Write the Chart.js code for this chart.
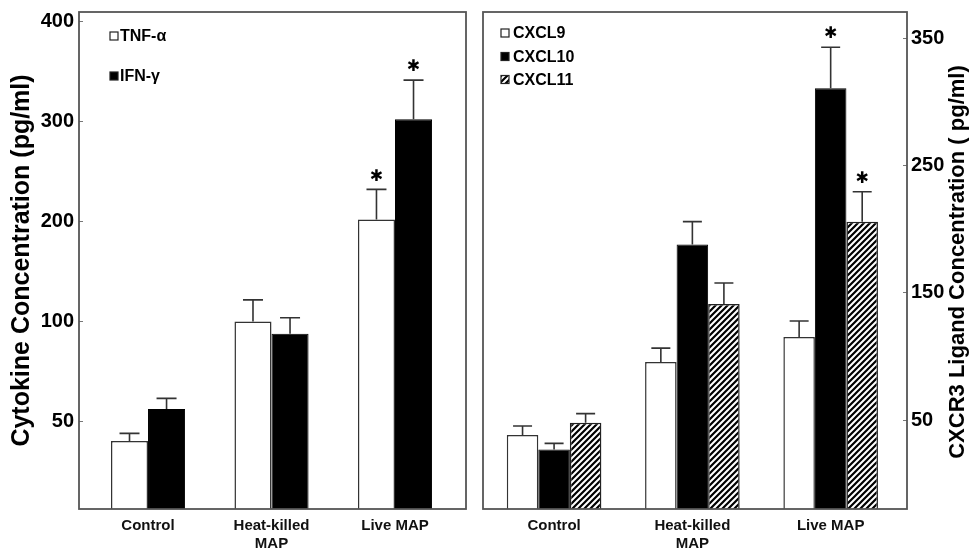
<!DOCTYPE html>
<html><head><meta charset="utf-8">
<script src="https://cdn.jsdelivr.net/npm/chart.js@4.4.1/dist/chart.umd.min.js"></script>
<style>
html,body{margin:0;padding:0;background:#fff;}
#wrap{position:relative;width:971px;height:550px;overflow:hidden;background:#fff;}
#c1{position:absolute;left:0;top:0;width:475px;height:550px;}
#c2{position:absolute;left:475px;top:0;width:496px;height:550px;}
</style></head><body>
<div id="wrap"><canvas id="c1" width="475" height="550"></canvas><canvas id="c2" width="496" height="550"></canvas></div>
<script>
// ---------- data ----------
const CATEGORIES = ['Control', ['Heat-killed', 'MAP'], 'Live MAP'];

const LEFT_SERIES = ['TNF-\u03b1', 'IFN-\u03b3'];
const TNF = [39, 100, 202];
const TNF_SEM = [4.4, 21.7, 30];
const IFN = [56.4, 94, 302];
const IFN_SEM = [5.3, 9.8, 39];
const TNF_SIG = [false, false, true];
const IFN_SIG = [false, false, true];
const LEFT_TICKS = [50, 100, 200, 300, 400];
const LEFT_TITLE = 'Cytokine Concentration (pg/ml)';

const RIGHT_SERIES = ['CXCL9', 'CXCL10', 'CXCL11'];
const CXCL9 = [41.6, 95.6, 115.3];
const CXCL9_SEM = [5.0, 11.0, 12.6];
const CXCL10 = [33.5, 188, 311];
const CXCL10_SEM = [3.4, 18.1, 32.3];
const CXCL11 = [48.5, 141.3, 206];
const CXCL11_SEM = [6.5, 16.5, 23.6];
const CXCL9_SIG = [false, false, false];
const CXCL10_SIG = [false, false, true];
const CXCL11_SIG = [false, false, true];
const RIGHT_TICKS = [50, 150, 250, 350];
const RIGHT_TITLE = 'CXCR3 Ligand Concentration ( pg/ml)';

// ---------- setup ----------
const FONT = "'Liberation Sans', Arial, Helvetica, sans-serif";
Chart.defaults.font.family = FONT;
Chart.defaults.color = '#000';

// broken (piecewise linear) value axis: tick values are equally spaced as in the original figure
function makeBrokenScale(id, knots, units) {
  return class extends Chart.LinearScale {
    static id = id;
    static defaults = {};
    _dec(v) {
      let i = 0;
      while (i < knots.length - 2 && v > knots[i + 1]) i++;
      const t = (v - knots[i]) / (knots[i + 1] - knots[i]);
      const p = units[i] + t * (units[i + 1] - units[i]);
      return (p - units[0]) / (units[units.length - 1] - units[0]);
    }
    getPixelForValue(v) {
      if (v === null || v === undefined || isNaN(v)) return NaN;
      return this.getPixelForDecimal(this._dec(v));
    }
    getValueForPixel(px) {
      const d = this.getDecimalForPixel(px);
      const p = units[0] + d * (units[units.length - 1] - units[0]);
      let i = 0;
      while (i < units.length - 2 && p > units[i + 1]) i++;
      return knots[i] + (p - units[i]) / (units[i + 1] - units[i]) * (knots[i + 1] - knots[i]);
    }
  };
}
Chart.register(makeBrokenScale('brokenLeft', [0, 50, 100, 200, 300, 400, 409], [-0.87, 0, 1, 2, 3, 4, 4.09]));
Chart.register(makeBrokenScale('brokenRight', [0, 50, 150, 250, 350, 371], [-0.70, 0, 1, 2, 3, 3.21]));

function hatchPattern() {
  const c = document.createElement('canvas'); c.width = 6; c.height = 6;
  const g = c.getContext('2d');
  g.fillStyle = '#fff'; g.fillRect(0, 0, 6, 6);
  g.strokeStyle = '#000'; g.lineWidth = 2.2;
  g.beginPath();
  g.moveTo(-1, 7); g.lineTo(7, -1);
  g.moveTo(-4, 4); g.lineTo(4, -4);
  g.moveTo(2, 10); g.lineTo(10, 2);
  g.stroke();
  return document.getElementById('c2').getContext('2d').createPattern(c, 'repeat');
}
const HATCH = hatchPattern();

function toXY(arr) { return arr.map((v, i) => ({ x: i, y: v })); }

function panelPlugin(cfg) {
  return {
    id: 'panel_' + cfg.name,
    afterDatasetsDraw(chart) {
      const ctx = chart.ctx, ys = chart.scales.y;
      ctx.save();
      chart.data.datasets.forEach((ds, di) => {
        const meta = chart.getDatasetMeta(di);
        meta.data.forEach((bar, i) => {
          const v = ds.data[i].y;
          const top = ys.getPixelForValue(v + ds.sem[i]);
          ctx.strokeStyle = '#333'; ctx.lineWidth = 1.6;
          ctx.beginPath();
          ctx.moveTo(bar.x, bar.y); ctx.lineTo(bar.x, top);
          ctx.moveTo(bar.x - cfg.capW / 2, top); ctx.lineTo(bar.x + cfg.capW / 2, top);
          ctx.stroke();
          if (ds.sig[i]) {
            ctx.fillStyle = '#000';
            ctx.font = "bold 16px 'DejaVu Sans', sans-serif";
            ctx.textAlign = 'center'; ctx.textBaseline = 'middle';
            ctx.fillText('\u2731', bar.x, top - 13);
          }
        });
      });
      ctx.restore();
    },
    afterDraw(chart) {
      const ctx = chart.ctx, a = chart.chartArea;
      ctx.save();
      // frame
      ctx.strokeStyle = '#555'; ctx.lineWidth = 1.8;
      ctx.strokeRect(a.left, a.top, a.right - a.left, a.bottom - a.top);
      // legend
      ctx.font = 'bold 16px ' + FONT;
      ctx.textAlign = 'left'; ctx.textBaseline = 'middle';
      chart.data.datasets.forEach((ds, di) => {
        const y = cfg.legendY[di], x = cfg.legendX, s = cfg.box;
        ctx.fillStyle = ds.backgroundColor;
        ctx.fillRect(x, y - s / 2, s, s);
        ctx.strokeStyle = '#222'; ctx.lineWidth = 1.2;
        ctx.strokeRect(x, y - s / 2, s, s);
        ctx.fillStyle = '#000';
        ctx.fillText(ds.label, x + s + cfg.gap, y + 1);
      });
      // right-side title (reads bottom to top)
      if (cfg.sideTitle) {
        ctx.translate(cfg.sideTitle.x, cfg.sideTitle.y);
        ctx.rotate(-Math.PI / 2);
        ctx.font = 'bold 22px ' + FONT;
        ctx.textAlign = 'center'; ctx.textBaseline = 'middle';
        ctx.fillStyle = '#000';
        ctx.fillText(cfg.sideTitle.text, 0, 0);
      }
      ctx.restore();
    }
  };
}

function xAxis(min, max) {
  return {
    type: 'linear', min: min, max: max, offset: false,
    grid: { display: false, offset: false }, border: { display: false },
    afterBuildTicks: s => { s.ticks = CATEGORIES.map((_, i) => ({ value: i })); },
    ticks: { callback: (v, i) => CATEGORIES[i], autoSkip: false, maxRotation: 0, minRotation: 0,
             padding: 0, font: { size: 15, weight: 'bold' }, color: '#111' },
    afterFit: s => { s.height = 41; s.paddingLeft = 0; s.paddingRight = 0; }
  };
}

// ---------- left panel ----------
new Chart(document.getElementById('c1'), {
  type: 'bar',
  data: {
    datasets: [
      { label: LEFT_SERIES[0], data: toXY(TNF), sem: TNF_SEM, sig: TNF_SIG,
        backgroundColor: '#fff', borderColor: '#333', borderWidth: 1.5 },
      { label: LEFT_SERIES[1], data: toXY(IFN), sem: IFN_SEM, sig: IFN_SIG,
        backgroundColor: '#000', borderColor: '#000', borderWidth: 1 }
    ]
  },
  options: {
    responsive: false, animation: false,
    layout: { padding: { top: 12, right: 9, left: 0, bottom: 0 } },
    datasets: { bar: { categoryPercentage: 0.6, barPercentage: 1.0 } },
    plugins: { legend: { display: false }, tooltip: { enabled: false } },
    scales: {
      x: xAxis(-0.559, 2.575),
      y: {
        type: 'brokenLeft', position: 'left', min: 0, max: 409,
        afterBuildTicks: s => { s.ticks = LEFT_TICKS.map(v => ({ value: v })); },
        grid: { drawOnChartArea: false, drawTicks: true, tickLength: -4, color: '#777', lineWidth: 1 },
        border: { display: false },
        ticks: { padding: 9, font: { size: 20, weight: 'bold' }, color: '#000' },
        title: { display: true, text: LEFT_TITLE, font: { size: 25, weight: 'bold' }, padding: { top: 7, bottom: 0 }, color: '#000' },
        afterFit: s => { s.width = 79; s.paddingTop = 0; s.paddingBottom = 0; }
      }
    }
  },
  plugins: [panelPlugin({ name: 'left', capW: 20, legendX: 110, legendY: [36, 76], box: 8, gap: 2 })]
});

// ---------- right panel ----------
new Chart(document.getElementById('c2'), {
  type: 'bar',
  data: {
    datasets: [
      { label: RIGHT_SERIES[0], data: toXY(CXCL9), sem: CXCL9_SEM, sig: CXCL9_SIG,
        backgroundColor: '#fff', borderColor: '#333', borderWidth: 1.5 },
      { label: RIGHT_SERIES[1], data: toXY(CXCL10), sem: CXCL10_SEM, sig: CXCL10_SIG,
        backgroundColor: '#000', borderColor: '#000', borderWidth: 1 },
      { label: RIGHT_SERIES[2], data: toXY(CXCL11), sem: CXCL11_SEM, sig: CXCL11_SIG,
        backgroundColor: HATCH, borderColor: '#222', borderWidth: 1.5 }
    ]
  },
  options: {
    responsive: false, animation: false,
    layout: { padding: { top: 12, right: 0, left: 8, bottom: 0 } },
    datasets: { bar: { categoryPercentage: 0.684, barPercentage: 1.0 } },
    plugins: { legend: { display: false }, tooltip: { enabled: false } },
    scales: {
      x: xAxis(-0.514, 2.552),
      y: {
        type: 'brokenRight', position: 'right', min: 0, max: 371,
        afterBuildTicks: s => { s.ticks = RIGHT_TICKS.map(v => ({ value: v })); },
        grid: { drawOnChartArea: false, drawTicks: true, tickLength: -4, color: '#777', lineWidth: 1 },
        border: { display: false },
        ticks: { padding: 8, font: { size: 20, weight: 'bold' }, color: '#000' },
        afterFit: s => { s.width = 64; s.paddingTop = 0; s.paddingBottom = 0; }
      }
    }
  },
  plugins: [panelPlugin({ name: 'right', capW: 19, legendX: 26, legendY: [33, 56.5, 79.5], box: 8, gap: 4,
                          sideTitle: { text: RIGHT_TITLE, x: 483, y: 262 } })]
});
</script></body></html>
